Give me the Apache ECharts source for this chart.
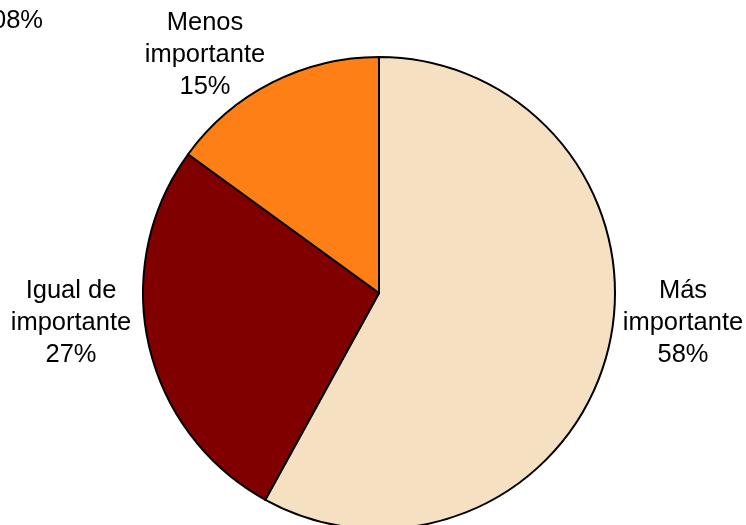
<!DOCTYPE html>
<html>
<head>
<meta charset="utf-8">
<script src="https://cdn.jsdelivr.net/npm/echarts@6/dist/echarts.min.js"></script>
<style>html,body{margin:0;padding:0;background:#fff;}#c{width:746px;height:525px;}</style>
</head>
<body>
<div id="c"></div>
<script>
const categories = ['Más\nimportante', 'Igual de\nimportante', 'Menos\nimportante'];
const values = [58, 27, 15];
const colors = ['#F5E1C2', '#800000', '#FF7F17'];
const labelPos = [[683, 323], [71, 323], [205, 55]];

const chart = echarts.init(document.getElementById('c'));
chart.setOption({
  animation: false,
  graphic: [{
    type: 'text', left: -8, top: 8,
    style: { text: '08%', font: '25.5px "Liberation Sans", Arial, sans-serif', fill: '#000' }
  }],
  series: [{
    type: 'pie',
    center: [379, 293],
    radius: 236,
    startAngle: 90,
    clockwise: true,
    data: categories.map((c, i) => ({ name: c, value: values[i], itemStyle: { color: colors[i] } })),
    itemStyle: { borderColor: '#000', borderWidth: 2 },
    label: {
      show: true,
      position: 'outside',
      formatter: p => p.name + '\n' + p.value + '%',
      fontFamily: '"Liberation Sans", Arial, sans-serif',
      fontSize: 25.5,
      lineHeight: 32,
      color: '#000',
      align: 'center',
      overflow: 'none',
      width: 200,
      edgeDistance: 0
    },
    labelLine: { show: false },
    labelLayout: p => ({ x: labelPos[p.dataIndex][0], y: labelPos[p.dataIndex][1], align: 'center', verticalAlign: 'middle', width: 200 }),
    emphasis: { disabled: true }
  }]
});
</script>
</body>
</html>
